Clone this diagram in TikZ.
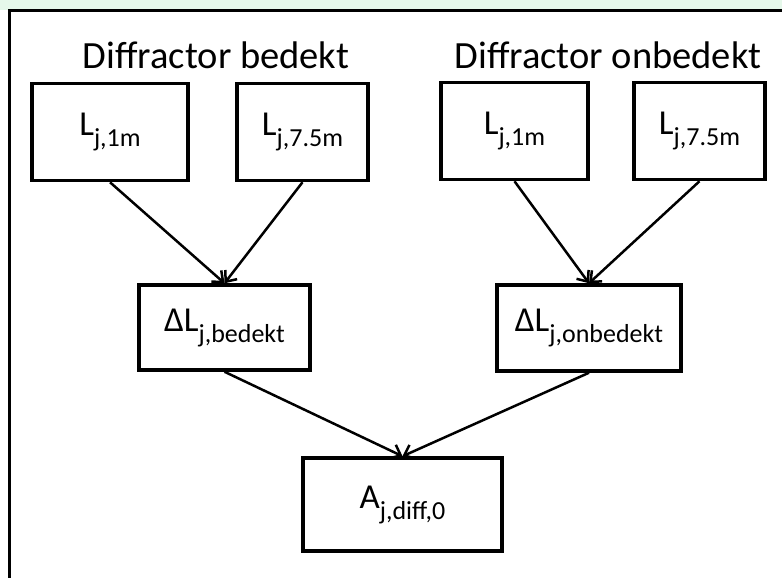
\documentclass[tikz,border=0pt]{standalone}
\usepackage{fontspec}
\setmainfont{Carlito}
\usetikzlibrary{
  positioning,
  arrows.meta
}
\definecolor{mintband}{RGB}{229,248,234}
\newcommand{\lowsub}[1]{\raisebox{-11pt}{\fontsize{26}{26}\selectfont #1}}

\begin{document}
\begin{tikzpicture}[
    x=1pt, y=-1pt, >={Straight Barb[length=9pt,width=15pt]},
    quantity/.style={
      draw=black,
      line width=3.5pt,
      inner sep=0pt,
      minimum height=97pt,
      font=\fontsize{35}{35}\selectfont
    },
    heading/.style={
      font=\fontsize{38.5}{38.5}\selectfont
    },
    flow/.style={
      ->,
      line width=2.5pt
    }
  ]

  \useasboundingbox (0,0) rectangle (782,578);

  % frame
  \fill[mintband] (0,0) rectangle (782,10);
  \draw[line width=3pt] (9,578) -- (9,11) -- (782,11);

  \begin{scope}

    % Headings
    \node[heading] (hb) at (216,55) {Diffractor bedekt};
    \node[heading] (ho) at (608,55) {Diffractor onbedekt};

    % Covered
    \node[quantity, minimum width=156pt] (b1m) at (110,132) {L\lowsub{j,1m}};
    \node[quantity, minimum width=131pt] (b75m) at (302.5,132) {L\lowsub{j,7.5m}};
    \node[quantity, minimum width=171pt, minimum height=85pt] (dlb) at (224.5,327.5) {ΔL\lowsub{j,bedekt}};

    % Uncovered
    \node[quantity, minimum width=147pt] (o1m) at (514.5,131) {L\lowsub{j,1m}};
    \node[quantity, minimum width=131pt] (o75m) at (699.5,131) {L\lowsub{j,7.5m}};
    \node[quantity, minimum width=184pt, minimum height=86pt] (dlo) at (589,328) {ΔL\lowsub{j,onbedekt}};

    % Result
    \node[quantity, minimum width=199pt, minimum height=93pt] (adiff) at (402.5,504.5) {A\lowsub{j,diff,0}};

    % Arrows
    \draw[flow] (b1m.south) -- (dlb.north);
    \draw[flow] (b75m.south) -- (dlb.north);
    \draw[flow] (o1m.south) -- (dlo.north);
    \draw[flow] (o75m.south) -- (dlo.north);
    \draw[flow] (dlb.south) -- (adiff.north);
    \draw[flow] (dlo.south) -- (adiff.north);

  \end{scope}

\end{tikzpicture}
\end{document}
